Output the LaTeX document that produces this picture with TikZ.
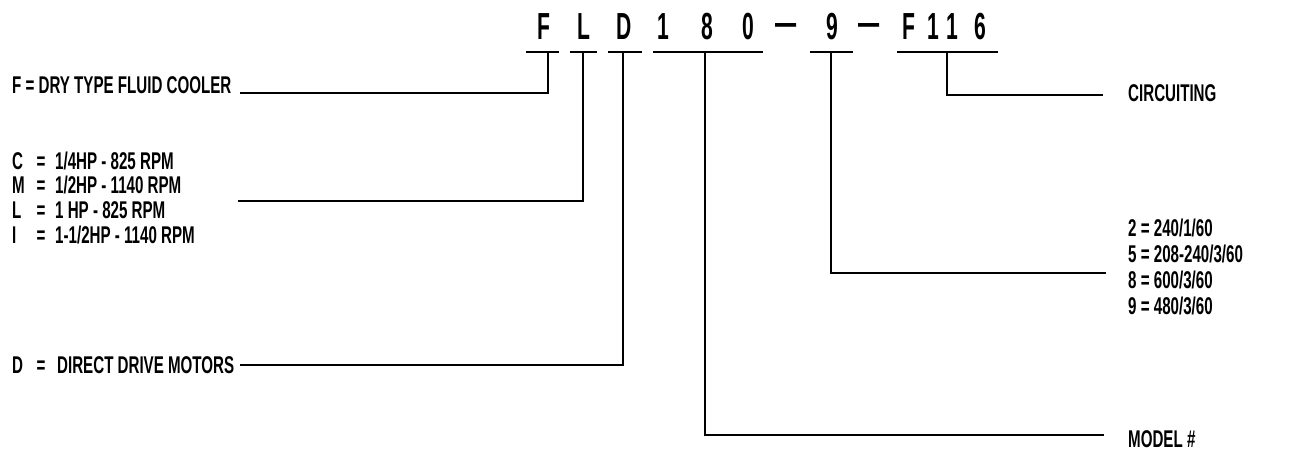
\documentclass[tikz,border=0pt]{standalone}
\usepackage{fontspec}
\setmainfont{Liberation Sans}[FakeStretch=0.625]
\newfontfamily\codefont{Liberation Sans}[FakeStretch=0.56]
\begin{document}
\begin{tikzpicture}[x=1pt,y=-1pt,
  lbl/.style={inner sep=0pt,anchor=base west,font=\fontsize{24.2}{26}\selectfont\bfseries},
  code/.style={inner sep=0pt,anchor=base,font=\codefont\fontsize{37.7}{40}\selectfont\bfseries},
  conn/.style={line width=1.3pt,black},
  uline/.style={line width=1.3pt,black}]
\useasboundingbox (0,0) rectangle (1294,452);
% code letters
\node[code] (cF) at (544,40) {F};
\node[code] (cL) at (584,40) {L};
\node[code] (cD) at (624,40) {D};
\node[code] (c1) at (663,40) {1};
\node[code] (c8) at (707,40) {8};
\node[code] (c0) at (748,40) {0};
\node[code] (dA) at (786.5,40) {\raisebox{4.5pt}{—}};
\node[code] (c9) at (832,40) {9};
\node[code] (dB) at (869.5,40) {\raisebox{4.5pt}{—}};
\node[code] (cF2) at (909,40) {F};
\node[code] (c11) at (933,40) {1};
\node[code] (c12) at (952,40) {1};
\node[code] (c6) at (980,40) {6};
% underlines
\coordinate (uFa) at (526,52); \coordinate (uFb) at (559,52); \coordinate (uF) at (548,52);
\coordinate (uLa) at (570,52); \coordinate (uLb) at (597,52); \coordinate (uL) at (583,52);
\coordinate (uDa) at (608,52); \coordinate (uDb) at (642,52); \coordinate (uD) at (623,52);
\coordinate (uMa) at (653,52); \coordinate (uMb) at (763,52); \coordinate (uM) at (705,52);
\coordinate (uVa) at (810,52); \coordinate (uVb) at (853,52); \coordinate (uV) at (831,52);
\coordinate (uCa) at (897,52); \coordinate (uCb) at (998,52); \coordinate (uC) at (947,52);
\draw[uline] (uFa) -- (uFb);
\draw[uline] (uLa) -- (uLb);
\draw[uline] (uDa) -- (uDb);
\draw[uline] (uMa) -- (uMb);
\draw[uline] (uVa) -- (uVb);
\draw[uline] (uCa) -- (uCb);
% left labels
\node[lbl] (lF) at (12,93.3) {F = DRY TYPE FLUID COOLER};
\node[lbl] (lCk) at (12,169.3) {C};
\node[lbl] (lMk) at (12,193.7) {M};
\node[lbl] (lLk) at (12,218.3) {L};
\node[lbl] (lIk) at (12,243) {I};
\node[lbl] (lDk) at (12,373) {D};
\node[lbl,anchor=base] (lCe) at (41,169.3) {=};
\node[lbl,anchor=base] (lMe) at (41,193.7) {=};
\node[lbl,anchor=base] (lLe) at (41,218.3) {=};
\node[lbl,anchor=base] (lIe) at (41,243) {=};
\node[lbl,anchor=base] (lDe) at (41,373) {=};
\node[lbl] (lCv) at (55,169.3) {1/4HP - 825 RPM};
\node[lbl] (lMv) at (55,193.7) {1/2HP - 1140 RPM};
\node[lbl] (lLv) at (55,218.3) {1 HP - 825 RPM};
\node[lbl] (lIv) at (55,243) {1-1/2HP - 1140 RPM};
\node[lbl] (lDv) at (57,373) {DIRECT DRIVE MOTORS};
% right labels
\node[lbl] (rCirc) at (1128,102) {CIRCUITING};
\node[lbl] (r2) at (1128,236) {2 = 240/1/60};
\node[lbl] (r5) at (1128,262) {5 = 208-240/3/60};
\node[lbl] (r8) at (1128,288) {8 = 600/3/60};
\node[lbl] (r9) at (1128,314) {9 = 480/3/60};
\node[lbl] (rModel) at (1128,447) {MODEL \#};
% connector ends
\coordinate (eF) at (240,93);
\coordinate (eL) at (238,201);
\coordinate (eD) at (240,365);
\coordinate (eC) at (1103,95);
\coordinate (eV) at (1106,273);
\coordinate (eM) at (1104,435);
\draw[conn] (uF) |- (eF);
\draw[conn] (uL) |- (eL);
\draw[conn] (uD) |- (eD);
\draw[conn] (uM) |- (eM);
\draw[conn] (uV) |- (eV);
\draw[conn] (uC) |- (eC);
\end{tikzpicture}
\end{document}
